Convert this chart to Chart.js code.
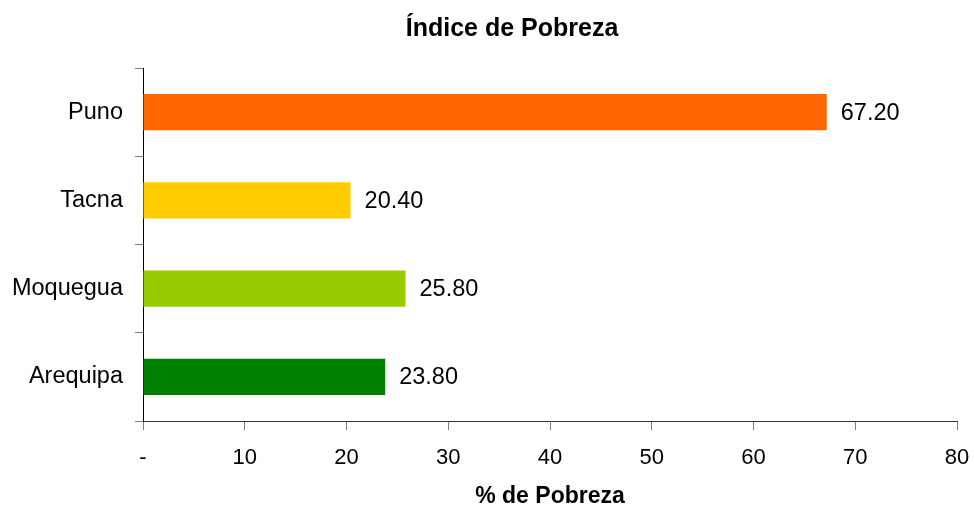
<!DOCTYPE html>
<html>
<head>
<meta charset="utf-8">
<script src="https://cdn.jsdelivr.net/npm/chart.js@4.4.0/dist/chart.umd.min.js"></script>
<style>
  body { margin: 0; background: #fff; }
</style>
</head>
<body>
<canvas id="chart" width="974" height="508"></canvas>
<script>
const regions = ["Puno", "Tacna", "Moquegua", "Arequipa"];
const povertyPct = [67.2, 20.4, 25.8, 23.8];
const barColors = ["#FF6600", "#FFCC00", "#99CC00", "#008000"];
const xTicks = [0, 10, 20, 30, 40, 50, 60, 70, 80];

const chartTitle = "Índice de Pobreza";
const xTitle = "% de Pobreza";
const FONT = "'Liberation Sans', Arial, sans-serif";

// title centred like the original, slightly right of the canvas middle
const titlePlugin = {
    id: "titlePlugin",
    afterDraw(chart) {
        const ctx = chart.ctx;
        ctx.save();
        ctx.font = "bold 25px " + FONT;
        ctx.fillStyle = "#000";
        ctx.textAlign = "center";
        ctx.textBaseline = "middle";
        ctx.fillText(chartTitle, 512, 29);
        ctx.restore();
    }
};

// value labels at the end of every bar
const valueLabels = {
    id: "valueLabels",
    afterDatasetsDraw(chart) {
        const ctx = chart.ctx;
        const meta = chart.getDatasetMeta(0);
        ctx.save();
        ctx.font = "23.5px " + FONT;
        ctx.fillStyle = "#000";
        ctx.textAlign = "left";
        ctx.textBaseline = "middle";
        meta.data.forEach((bar, i) => {
            ctx.fillText(povertyPct[i].toFixed(2), bar.x + 14, bar.y + 1);
        });
        ctx.restore();
    }
};

new Chart(document.getElementById("chart"), {
    type: "bar",
    data: {
        labels: regions,
        datasets: [
            {
                data: povertyPct,
                backgroundColor: barColors,
                borderWidth: 0,
                categoryPercentage: 1,
                barPercentage: 0.41,
            },
        ],
    },
    options: {
        indexAxis: "y",
        responsive: false,
        animation: false,
        layout: { padding: { top: 68, left: 10, right: 17, bottom: 0 } },
        plugins: {
            legend: { display: false },
            tooltip: { enabled: false },
            title: { display: false },
        },
        scales: {
            x: {
                min: 0,
                max: 80,
                afterBuildTicks: (scale) => {
                    scale.ticks = xTicks.map((v) => ({ value: v }));
                },
                afterFit: (scale) => {
                    scale.height = 87;
                    scale.paddingLeft = 0;
                    scale.paddingRight = 0;
                },
                ticks: {
                    color: "#000",
                    font: { family: FONT, size: 22 },
                    padding: 15,
                    maxRotation: 0,
                    callback: (v) => (v === 0 ? "-" : v),
                },
                grid: {
                    drawOnChartArea: false,
                    drawTicks: true,
                    tickLength: 9,
                    color: "#808080",
                },
                border: { display: true, color: "#333", width: 1 },
                title: {
                    display: true,
                    text: xTitle,
                    color: "#000",
                    font: { family: FONT, size: 23, weight: "bold" },
                    padding: { top: 0, bottom: -2 },
                },
            },
            y: {
                afterFit: (scale) => {
                    scale.width = 133;
                },
                ticks: {
                    color: "#000",
                    font: { family: FONT, size: 23.5 },
                    padding: 12,
                },
                grid: {
                    offset: true,
                    drawOnChartArea: false,
                    drawTicks: true,
                    tickLength: 8,
                    color: "#808080",
                },
                border: { display: true, color: "#000", width: 1 },
            },
        },
    },
    plugins: [titlePlugin, valueLabels],
});
</script>
</body>
</html>
